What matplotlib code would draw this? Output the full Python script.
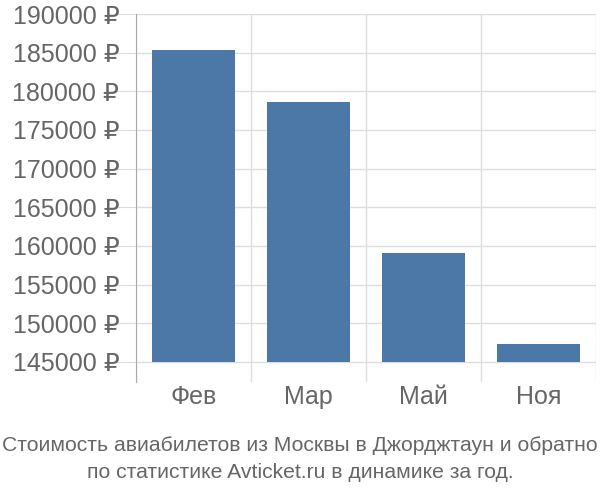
import numpy as np
import matplotlib
matplotlib.use("Agg")
import matplotlib.pyplot as plt
from matplotlib.ticker import FuncFormatter, MultipleLocator

plt.rcParams["font.family"] = ["Liberation Sans", "DejaVu Sans"]

months = ["Фев", "Мар", "Май", "Ноя"]
prices = [185300, 178600, 159100, 147300]
title = "Стоимость авиабилетов из Москвы в Джорджтаун и обратно\nпо статистике Avticket.ru в динамике за год."

bar_color = "#4c78a8"
text_color = "#666666"
grid_color = "#dddddd"
base = 145000

fig = plt.figure(figsize=(6, 5), dpi=100)
ax = fig.add_axes([136 / 600, 1 - 382 / 500, 460 / 600, 368 / 500])

x = np.arange(len(months))
ax.bar(x, np.array(prices) - base, bottom=base, width=0.72, color=bar_color, zorder=3)

ax.set_xlim(-0.5, len(months) - 0.5)
ax.set_ylim(142400, 190000)
ax.yaxis.set_major_locator(MultipleLocator(5000))
ax.yaxis.set_major_formatter(FuncFormatter(lambda v, p: f"{int(v)} ₽"))
ax.set_xticks(x)
ax.set_xticklabels(months)
ax.set_xticks(np.arange(len(months) + 1) - 0.5, minor=True)

ax.grid(axis="y", color=grid_color, linewidth=1, zorder=0)
ax.grid(axis="x", which="minor", color=grid_color, linewidth=1, zorder=0)
ax.tick_params(axis="y", length=20, color=grid_color, labelsize=18, labelcolor=text_color, pad=-8)
ax.tick_params(axis="x", which="major", length=0, labelsize=18, labelcolor=text_color, pad=2)
ax.tick_params(axis="x", which="minor", length=0)

for side in ["top", "right", "bottom"]:
    ax.spines[side].set_visible(False)
ax.spines["left"].set_color("#aaaaaa")

fig.text(0.5, 0.082, title, ha="center", va="center", fontsize=15.2,
         color=text_color, linespacing=1.5)

fig.savefig("out.png", dpi=100)
